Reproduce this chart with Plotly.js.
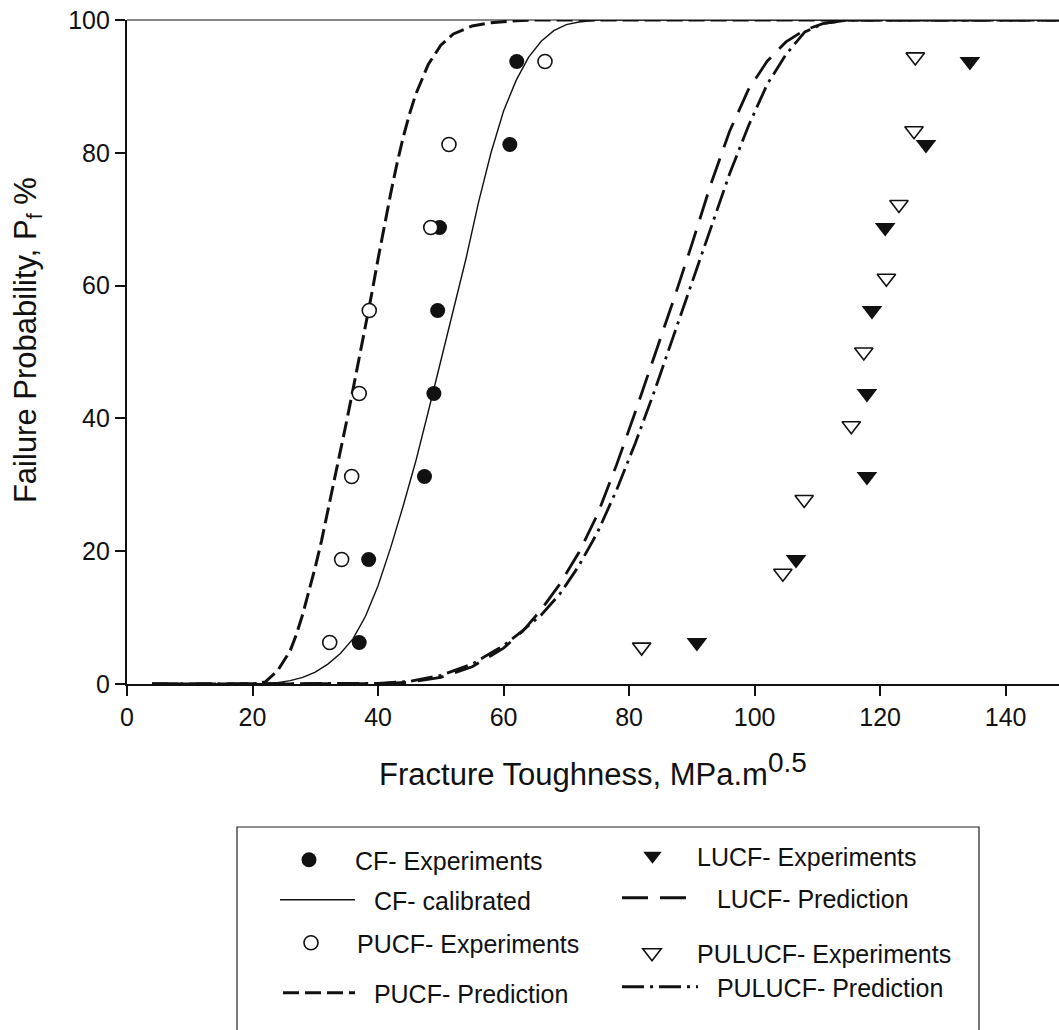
<!DOCTYPE html>
<html>
<head>
<meta charset="utf-8">
<script src="https://cdn.plot.ly/plotly-3.0.1.min.js"></script>
<style>
  html, body { margin: 0; padding: 0; background: #fff; }
  #chart { width: 1059px; height: 1030px; }
</style>
</head>
<body>
<div id="chart"></div>
<script>
const cfX = [37.0, 38.5, 47.4, 48.9, 49.5, 49.8, 61.0, 62.1];
const cfY = [6.25, 18.75, 31.25, 43.75, 56.25, 68.75, 81.25, 93.75];

const pucfX = [32.3, 34.2, 35.8, 37.0, 38.6, 48.4, 51.3, 66.6];
const pucfY = [6.25, 18.75, 31.25, 43.75, 56.25, 68.75, 81.25, 93.75];

const lucfX = [90.8, 106.6, 117.9, 117.9, 118.7, 120.8, 127.3, 134.3];
const lucfY = [6.25, 18.75, 31.25, 43.75, 56.25, 68.75, 81.25, 93.75];

const pulucfX = [82.0, 104.5, 107.9, 115.4, 117.4, 121.0, 123.0, 125.4, 125.6];
const pulucfY = [5.56, 16.67, 27.78, 38.89, 50.0, 61.11, 72.22, 83.33, 94.44];

// ---- Curves ----
const cfCalX = [4, 20, 22, 24, 26, 28, 30, 32, 34, 36, 38, 40, 42, 44, 46, 48, 50, 52, 54, 56, 58, 60, 62, 64, 66, 68, 70, 72, 75, 80, 150];
const cfCalY = [0, 0, 0.05, 0.2, 0.5, 1.0, 1.8, 3.0, 4.6, 6.8, 10.2, 14.8, 20.5, 26.8, 33.5, 41.0, 48.8, 56.3, 64.0, 72.5, 80.0, 86.3, 90.9, 94.4, 96.8, 98.4, 99.3, 99.7, 100, 100, 100];

const pucfPredX = [4, 20, 22, 24, 26, 27, 28, 29, 30, 31, 32, 33, 34, 35, 36, 37, 38, 39, 40, 41, 42, 43, 44, 45, 46, 48, 50, 52, 55, 58, 62, 65, 150];
const pucfPredY = [0, 0, 0.3, 2.0, 5.0, 7.5, 10.5, 14.0, 17.6, 21.6, 26.0, 30.5, 35.0, 39.6, 44.3, 49.0, 53.8, 58.8, 64.0, 69.0, 73.8, 78.3, 82.3, 85.8, 88.8, 93.3, 96.2, 97.9, 99.1, 99.6, 99.9, 100, 100];

const lucfPredX = [4, 30, 40, 45, 50, 55, 60, 63, 66, 69, 72, 75, 78, 81, 84, 87, 90, 93, 96, 99, 102, 105, 108, 111, 115, 150];
const lucfPredY = [0, 0, 0.05, 0.25, 1.0, 2.6, 5.4, 7.9, 11.2, 15.1, 19.8, 25.6, 33.0, 41.0, 49.2, 57.6, 66.2, 75.2, 83.2, 89.5, 93.8, 96.7, 98.5, 99.5, 100, 100];

const pulucfPredX = [4, 30, 40, 45, 50, 55, 60, 63, 66, 69, 72, 75, 78, 81, 84, 87, 90, 93, 96, 99, 102, 105, 108, 111, 115, 150];
const pulucfPredY = [0, 0, 0.1, 0.4, 1.3, 3.0, 5.8, 8.0, 10.4, 13.6, 17.8, 22.9, 29.2, 36.3, 44.0, 52.2, 60.5, 68.8, 76.8, 84.0, 90.3, 94.8, 98.2, 99.5, 100, 100];

const xTicks = [0, 20, 40, 60, 80, 100, 120, 140];
const yTicks = [0, 20, 40, 60, 80, 100];

const xTitle = 'Fracture Toughness, MPa.m<sup><span style="font-size:28px">0.5</span></sup>';
const yTitle = 'Failure Probability, P<sub>f</sub> %';

const names = {
  cfExp: 'CF- Experiments',
  cfCal: '\u00A0\u00A0CF- calibrated',
  pucfExp: 'PUCF- Experiments',
  pucfPred: '\u00A0\u00A0PUCF- Prediction',
  lucfExp: 'LUCF- Experiments',
  lucfPred: '\u00A0\u00A0LUCF- Prediction',
  pulucfExp: 'PULUCF- Experiments',
  pulucfPred: '\u00A0\u00A0PULUCF- Prediction'
};

const FONT = 'Liberation Sans, Arial, Helvetica, sans-serif';
const INK = '#111111';

const traces = [
  { x: cfCalX, y: cfCalY, mode: 'lines', name: names.cfCal, legend: 'legend2',
    line: { color: INK, width: 1.4, shape: 'linear' } },
  { x: pucfPredX, y: pucfPredY, mode: 'lines', name: names.pucfPred, legend: 'legend4',
    line: { color: INK, width: 3, dash: '16px,6px', shape: 'linear' } },
  { x: lucfPredX, y: lucfPredY, mode: 'lines', name: names.lucfPred, legend: 'legend6',
    line: { color: INK, width: 2.8, dash: '26px,12px', shape: 'linear' } },
  { x: pulucfPredX, y: pulucfPredY, mode: 'lines', name: names.pulucfPred, legend: 'legend8',
    line: { color: INK, width: 2.8, dash: '22px,6px,3px,6px', shape: 'linear' } },
  { x: cfX, y: cfY, mode: 'markers', name: names.cfExp, legend: 'legend',
    marker: { symbol: 'circle', size: 15, color: INK, line: { width: 0 } } },
  { x: pucfX, y: pucfY, mode: 'markers', name: names.pucfExp, legend: 'legend3',
    marker: { symbol: 'circle', size: 14, color: '#ffffff', line: { width: 1.6, color: INK } } },
  { x: lucfX, y: lucfY, mode: 'markers', name: names.lucfExp, legend: 'legend5',
    marker: { symbol: 'triangle-down', size: 18, color: INK, line: { width: 0 } } },
  { x: pulucfX, y: pulucfY, mode: 'markers', name: names.pulucfExp, legend: 'legend7',
    marker: { symbol: 'triangle-down', size: 16, color: '#ffffff', line: { width: 1.6, color: INK } } }
];

const W = 1059, H = 1030;
function leg(px, py, w) {
  return {
    x: px / W, xref: 'container', xanchor: 'left',
    y: 1 - py / H, yref: 'container', yanchor: 'middle',
    bgcolor: 'rgba(0,0,0,0)', borderwidth: 0,
    itemwidth: w, itemclick: false, itemdoubleclick: false,
    font: { family: FONT, size: 25, color: INK }
  };
}

const layout = {
  width: W, height: H,
  paper_bgcolor: '#ffffff', plot_bgcolor: '#ffffff',
  margin: { l: 127, r: 0, t: 20, b: 346, autoexpand: false },
  font: { family: FONT, color: INK },
  showlegend: true,
  xaxis: {
    range: [0, 148.5], tickmode: 'array', tickvals: xTicks, ticktext: xTicks.map(String),
    showgrid: false, zeroline: false, showline: true, linecolor: INK, linewidth: 1.6,
    ticks: 'outside', ticklen: 10, tickwidth: 1.5, tickcolor: INK,
    tickfont: { family: FONT, size: 25, color: INK },
    title: { text: xTitle, font: { family: FONT, size: 31, color: INK }, standoff: 34 },
    automargin: false
  },
  yaxis: {
    range: [0, 100], tickmode: 'array', tickvals: yTicks, ticktext: yTicks.map(String),
    showgrid: false, zeroline: false, showline: true, linecolor: INK, linewidth: 2.2,
    ticks: 'outside', ticklen: 10, tickwidth: 1.5, tickcolor: INK,
    tickfont: { family: FONT, size: 25, color: INK },
    automargin: false
  },
  annotations: [
    { text: yTitle, xref: 'paper', yref: 'paper', x: -0.1062, y: 0.518,
      xanchor: 'center', yanchor: 'middle', textangle: -90, showarrow: false,
      font: { family: FONT, size: 31, color: INK } }
  ],
  legend:  leg(263, 860, 82),
  legend2: leg(275, 900, 75),
  legend3: leg(265, 943, 82),
  legend4: leg(278, 993, 72),
  legend5: leg(608, 856, 79),
  legend6: leg(617, 898, 76),
  legend7: leg(607, 953, 80),
  legend8: leg(617, 987, 76),
  shapes: [
    { type: 'line', xref: 'paper', yref: 'paper', x0: 0, x1: 1, y0: 1, y1: 1,
      line: { color: INK, width: 1 } },
    { type: 'path', xref: 'paper', yref: 'paper',
      path: 'M 0.11803,-0.5361 L 0.11803,-0.21536 L 0.91416,-0.21536 L 0.91416,-0.5361',
      line: { color: '#222222', width: 1.2 } }
  ]
};

Plotly.newPlot('chart', traces, layout, { displayModeBar: false, responsive: false });
</script>
</body>
</html>
